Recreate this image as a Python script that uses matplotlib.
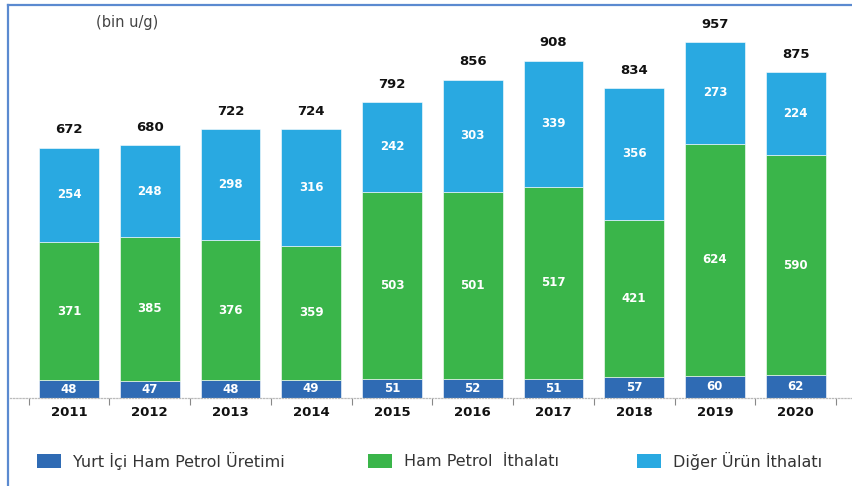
import matplotlib
matplotlib.use("Agg")
import matplotlib.pyplot as plt
from matplotlib.lines import Line2D
from matplotlib.patches import Rectangle
import numpy as np

years = ["2011", "2012", "2013", "2014", "2015", "2016", "2017", "2018", "2019", "2020"]
yurt_ici = [48, 47, 48, 49, 51, 52, 51, 57, 60, 62]
ham_petrol = [371, 385, 376, 359, 503, 501, 517, 421, 624, 590]
diger_urun = [254, 248, 298, 316, 242, 303, 339, 356, 273, 224]
totals = [672, 680, 722, 724, 792, 856, 908, 834, 957, 875]

series_names = ["Yurt İçi Ham Petrol Üretimi", "Ham Petrol  İthalatı", "Diğer Ürün İthalatı"]
colors = ["#2F6BB4", "#3AB54A", "#29A9E1"]

W, H = 853, 486
fig = plt.figure(figsize=(W / 100, H / 100), dpi=100)
ax_left, ax_right, ax_bottom, ax_top = 10, 853, 398, 10
ax = fig.add_axes([ax_left / W, 1 - ax_bottom / H, (ax_right - ax_left) / W, (ax_bottom - ax_top) / H])

x = np.arange(len(years))
width = 0.74
bottom = np.zeros(len(years))
for vals, col in zip([yurt_ici, ham_petrol, diger_urun], colors):
    vals = np.array(vals, dtype=float)
    ax.bar(x, vals, width, bottom=bottom, color=col, edgecolor="white", linewidth=0.4, zorder=2)
    for xi, b, v in zip(x, bottom, vals):
        ax.text(xi, b + v / 2, f"{int(v)}", ha="center", va="center", color="white",
                fontsize=8.5, fontweight="bold", zorder=3)
    bottom += vals

for xi, top, t in zip(x, bottom, totals):
    ax.text(xi, top + 30, f"{t}", ha="center", va="bottom", color="#111111",
            fontsize=9.5, fontweight="bold")

ax.set_xlim(-0.73, 9.71)
ax.set_ylim(0, 388 / 0.372)

for s in ["top", "right", "left"]:
    ax.spines[s].set_visible(False)
ax.spines["bottom"].set_color("#BBBBBB")
ax.spines["bottom"].set_linestyle((0, (1, 1.5)))
ax.spines["bottom"].set_linewidth(0.9)

ax.set_yticks([])
ax.set_xticks(x)
ax.set_xticklabels(years, fontsize=9.5, fontweight="bold", color="#111111")
ax.tick_params(axis="x", which="major", length=0, pad=6)
ax.set_xticks(np.arange(-0.5, len(years), 1.0), minor=True)
ax.tick_params(axis="x", which="minor", length=5, width=0.8, color="#888888")
ax.patch.set_alpha(0)

fig.text(96 / W, 1 - 22 / H, "(bin u/g)", fontsize=10.5, color="#444444", va="center", ha="left")

# legend row
legend_x = [37, 368, 637]
for lx, name, col in zip(legend_x, series_names, colors):
    fig.add_artist(Rectangle((lx / W, 1 - 468 / H), 24 / W, 14 / H, transform=fig.transFigure,
                             facecolor=col, edgecolor="none"))
    fig.text((lx + 36) / W, 1 - 461 / H, name, fontsize=11.5, color="#333333", va="center", ha="left")

# frame lines along the top and left edge
fc = "#5B8AD0"
fig.add_artist(Line2D([8 / W, 1.0], [1 - 5 / H, 1 - 5 / H], transform=fig.transFigure, color=fc, lw=1.6))
fig.add_artist(Line2D([8 / W, 8 / W], [1 - 5 / H, 0.0], transform=fig.transFigure, color=fc, lw=1.6))

fig.savefig("out.png", dpi=100, facecolor="white")
